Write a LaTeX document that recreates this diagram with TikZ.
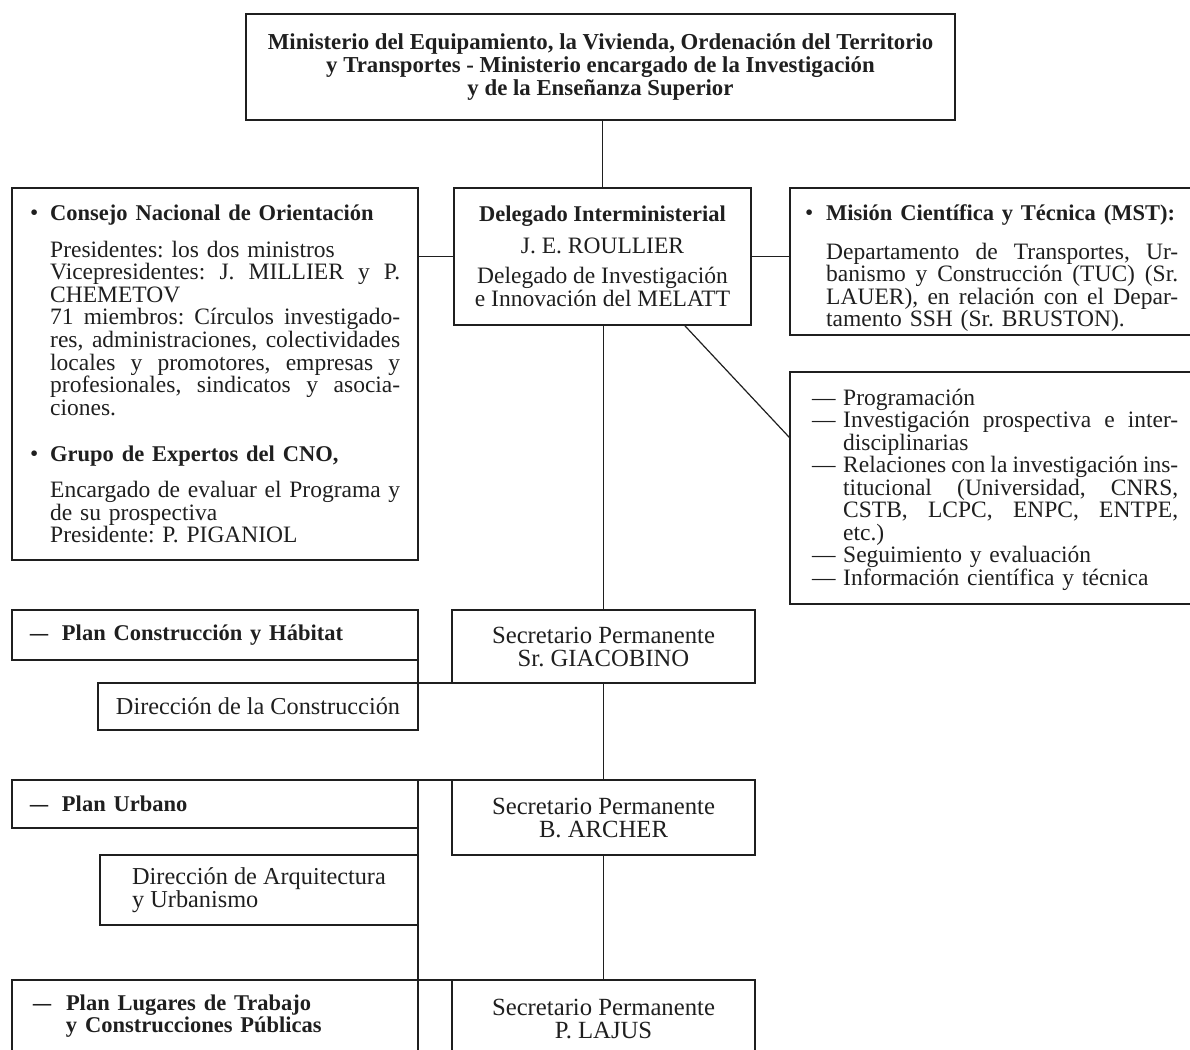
\documentclass[tikz,border=0pt]{standalone}
\usepackage{fontspec}
\usepackage{graphicx}
\setmainfont{Liberation Serif}
\usetikzlibrary{calc}
\definecolor{ink}{gray}{0.12}
\frenchspacing
\newcommand\rg{\fontsize{23.5}{22.6}\selectfont}
\newcommand\rgl{\fontsize{24.3}{23}\selectfont}
\newcommand\rgs{\fontsize{24.7}{23}\selectfont}
\newcommand\bd{\fontsize{22.5}{22.6}\selectfont\bfseries}
\newcommand\bul{\textbullet}
\newcommand\jl[2]{{\spaceskip=0.3333em plus 1em minus 0.2em\relax\makebox[#1][s]{#2}}}
\newcommand\hang[2]{\leavevmode\llap{\makebox[#1][l]{#2}}}
\newcommand\pdash{\scalebox{1.6}[1]{–}}
\begin{document}
\begin{tikzpicture}[x=1pt,y=-1pt,
  box/.style={draw=ink, line width=1.3pt, inner sep=0pt, outer sep=0pt, anchor=north west, text=ink, font=\rg},
  txt/.style={inner sep=0pt, text=ink, anchor=base west, align=left, font=\rg},
  conn/.style={draw=ink, line width=1.2pt}]
\useasboundingbox (0,0) rectangle (1190,1049);
\clip (0,0) rectangle (1190,1049);

% boxes
\node[box, minimum width=709pt, minimum height=106pt, align=center, font=\fontsize{22.8}{22.6}\selectfont\bfseries] (top) at (246,14)
 {Ministerio del Equipamiento, la Vivienda, Ordenación del Territorio\\ y Transportes - Ministerio encargado de la Investigación\\ y de la Enseñanza Superior};

\node[box, minimum width=406pt, minimum height=372pt] (cno) at (12,188) {};
\node[box, minimum width=297pt, minimum height=137pt, align=center] (del) at (454,188)
 {{\bd Delegado Interministerial}\\[9.4pt] J. E. ROULLIER\\[7.4pt] Delegado de Investigación\\ e Innovación del MELATT};
\node[box, minimum width=420pt, minimum height=147pt] (mst) at (790,188) {};
\node[box, minimum width=420pt, minimum height=232pt] (list) at (790,372) {};

\node[box, text width=370pt, inner xsep=18pt, minimum height=50pt, align=left] (pc) at (12,610)
 {{\bd \makebox[32pt][l]{\pdash}Plan Construcción y Hábitat}};
\node[box, minimum width=303pt, minimum height=73pt, align=center, font=\rgs] (sec1) at (452,610)
 {Secretario Permanente\\ Sr. GIACOBINO};
\node[box, minimum width=320pt, minimum height=47pt, align=center, font=\rgl] (dc) at (98,683)
 {Dirección de la Construcción};

\node[box, text width=370pt, inner xsep=18pt, minimum height=48pt, align=left] (pu) at (12,780)
 {{\bd \makebox[32pt][l]{\pdash}Plan Urbano}};
\node[box, minimum width=303pt, minimum height=75pt, align=center, font=\rgs] (sec2) at (452,780)
 {Secretario Permanente\\ B. ARCHER};
\node[box, minimum width=318pt, minimum height=70pt, align=left, font=\rgl] (da) at (100,855)
 {Dirección de Arquitectura\\ y Urbanismo};

\node[box, text width=370pt, inner xsep=18pt, minimum height=72pt, align=left] (pl) at (12,980)
 {{\bd \makebox[36pt][l]{\hspace*{3pt}\pdash}Plan Lugares de Trabajo\\ \hspace*{36pt}y Construcciones Públicas}};
\node[box, minimum width=303pt, minimum height=77pt, align=center, font=\rgs] (sec3) at (452,980)
 {Secretario Permanente\\ P. LAJUS};

% texts inside the large boxes
\node[txt, text width=350pt] (cnot) at (50,220) {%
\hang{20pt}{\bul}{\bd Consejo Nacional de Orientación}\\[14.4pt]
Presidentes: los dos ministros\\
\jl{350pt}{Vicepresidentes: J. MILLIER y P.}\\
CHEMETOV\\
\jl{350pt}{71 miembros: Círculos investigado-}\\
\jl{350pt}{res, administraciones, colectividades}\\
\jl{350pt}{locales y promotores, empresas y}\\
\jl{350pt}{profesionales, sindicatos y asocia-}\\
ciones.\\[23.9pt]
\hang{20pt}{\bul}{\bd Grupo de Expertos del CNO,}\\[13.4pt]
\jl{350pt}{Encargado de evaluar el Programa y}\\
de su prospectiva\\
Presidente: P. PIGANIOL};

\node[txt, text width=352pt] (mstt) at (826,220) {%
\hang{21pt}{\bul}{\bd Misión Científica y Técnica (MST):}\\[16.4pt]
\jl{352pt}{Departamento de Transportes, Ur-}\\
\jl{352pt}{banismo y Construcción (TUC) (Sr.}\\
\jl{352pt}{LAUER), en relación con el Depar-}\\
tamento SSH (Sr. BRUSTON).};

\node[txt, text width=335pt, font=\fontsize{23.5}{22.5}\selectfont] (listt) at (843,405) {%
\hang{31pt}{—}Programación\\
\hang{31pt}{—}\jl{335pt}{Investigación prospectiva e inter-}\\
disciplinarias\\
\hang{31pt}{—}\jl{335pt}{Relaciones con la investigación ins-}\\
\jl{335pt}{titucional (Universidad, CNRS,}\\
\jl{335pt}{CSTB, LCPC, ENPC, ENTPE,}\\
etc.)\\
\hang{31pt}{—}Seguimiento y evaluación\\
\hang{31pt}{—}Información científica y técnica};

% connectors
\draw[conn] (del.north |- top.south) -- (del.north);
\draw[conn] (del.west) -- (del.west -| cno.east);
\draw[conn] (del.east) -- (del.east -| mst.west);
\draw[conn] ($(del.south)!0.55!(del.south east)$) -- ($(list.north west)!0.285!(list.south west)$);
\draw[conn] (sec1.north |- del.south) -- (sec1.north);
\draw[conn] (sec1.south) -- (sec2.north);
\draw[conn] (sec2.south) -- (sec3.north);
\draw[conn] (pc.south east) -- (dc.north east) -- (sec1.south west);
\draw[conn] (pu.north east) -- (sec2.north west);
\draw[conn] (pu.south east) -- (da.north east);
\draw[conn] (da.south east) -- (pl.north east) -- (sec3.north west);
\end{tikzpicture}
\end{document}
